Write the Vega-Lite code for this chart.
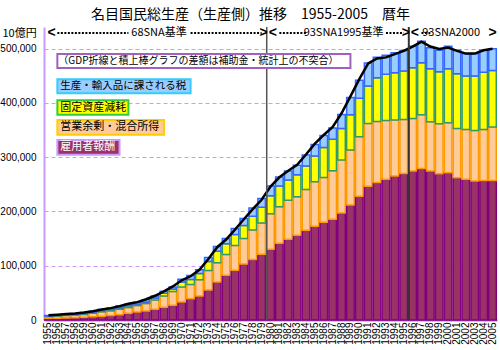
{
  "$schema": "https://vega.github.io/schema/vega-lite/v6.json",
  "width": 453,
  "height": 293,
  "autosize": {"type": "none"},
  "padding": {"left": 44, "top": 27, "right": 3, "bottom": 30},
  "background": "white",
  "title": {"text": "名目国民総生産（生産側）推移　1955-2005　暦年", "font": "Noto Sans CJK JP", "fontSize": 14, "fontWeight": "normal", "color": "#000000", "anchor": "middle", "dx": -20, "offset": 4},
  "config": {
    "view": {"stroke": null},
    "font": "Liberation Sans",
    "axisX": {"labelAngle": 270, "labelFont": "Liberation Sans", "labelFontSize": 10, "labelColor": "#000000", "labelPadding": 2, "ticks": false, "domain": true, "domainColor": "#b070e0", "domainWidth": 2, "labelOverlap": false, "grid": false},
    "axisY": {"format": ",.0f", "titleAngle": 0, "titleX": -42, "titleY": 6, "titleAlign": "left", "titleBaseline": "middle", "titleFont": "Noto Sans CJK JP", "titleFontSize": 11, "titleFontWeight": "normal", "titleColor": "#000000",
              "labelFont": "Liberation Sans", "labelFontSize": 10, "labelColor": "#000000", "labelPadding": 8, "ticks": false,
              "grid": true, "gridColor": "#cc99ff", "gridDash": [4, 3], "gridWidth": 1, "domain": true, "domainColor": "#cc99ff", "domainWidth": 2}
  },
  "data": {"values": [
    {"year":1955,"c1_comp":3000,"c2_surplus":3300,"c3_depr":1100,"c4_tax":1000,"gdp":8600},
    {"year":1956,"c1_comp":3400,"c2_surplus":3800,"c3_depr":1200,"c4_tax":1100,"gdp":9700},
    {"year":1957,"c1_comp":3900,"c2_surplus":4500,"c3_depr":1400,"c4_tax":1200,"gdp":11100},
    {"year":1958,"c1_comp":4300,"c2_surplus":4700,"c3_depr":1500,"c4_tax":1300,"gdp":11900},
    {"year":1959,"c1_comp":4900,"c2_surplus":5400,"c3_depr":1700,"c4_tax":1500,"gdp":13700},
    {"year":1960,"c1_comp":5800,"c2_surplus":6600,"c3_depr":2000,"c4_tax":1700,"gdp":16000},
    {"year":1961,"c1_comp":7000,"c2_surplus":8000,"c3_depr":2400,"c4_tax":2100,"gdp":19300},
    {"year":1962,"c1_comp":8300,"c2_surplus":8600,"c3_depr":2700,"c4_tax":2400,"gdp":21900},
    {"year":1963,"c1_comp":9700,"c2_surplus":10000,"c3_depr":3100,"c4_tax":2800,"gdp":25600},
    {"year":1964,"c1_comp":12300,"c2_surplus":10800,"c3_depr":3000,"c4_tax":3000,"gdp":29900},
    {"year":1965,"c1_comp":14700,"c2_surplus":12000,"c3_depr":2800,"c4_tax":3000,"gdp":32900},
    {"year":1966,"c1_comp":16600,"c2_surplus":13600,"c3_depr":3000,"c4_tax":4000,"gdp":38200},
    {"year":1967,"c1_comp":19700,"c2_surplus":17100,"c3_depr":3700,"c4_tax":3700,"gdp":44700},
    {"year":1968,"c1_comp":23400,"c2_surplus":20800,"c3_depr":5200,"c4_tax":3600,"gdp":52800},
    {"year":1969,"c1_comp":27100,"c2_surplus":25200,"c3_depr":4800,"c4_tax":3700,"gdp":61800},
    {"year":1970,"c1_comp":33200,"c2_surplus":27600,"c3_depr":9200,"c4_tax":5000,"gdp":73200},
    {"year":1971,"c1_comp":39300,"c2_surplus":26300,"c3_depr":9200,"c4_tax":7300,"gdp":80600},
    {"year":1972,"c1_comp":44100,"c2_surplus":30100,"c3_depr":11600,"c4_tax":6800,"gdp":92400},
    {"year":1973,"c1_comp":55200,"c2_surplus":36100,"c3_depr":16600,"c4_tax":7300,"gdp":112500},
    {"year":1974,"c1_comp":69900,"c2_surplus":35600,"c3_depr":21300,"c4_tax":8600,"gdp":134200},
    {"year":1975,"c1_comp":82700,"c2_surplus":38000,"c3_depr":19700,"c4_tax":9600,"gdp":148300},
    {"year":1976,"c1_comp":91900,"c2_surplus":45400,"c3_depr":20200,"c4_tax":11000,"gdp":166600},
    {"year":1977,"c1_comp":103000,"c2_surplus":47200,"c3_depr":23900,"c4_tax":12900,"gdp":185600},
    {"year":1978,"c1_comp":111600,"c2_surplus":54500,"c3_depr":25000,"c4_tax":15500,"gdp":204400},
    {"year":1979,"c1_comp":121300,"c2_surplus":57700,"c3_depr":28700,"c4_tax":16000,"gdp":221500},
    {"year":1980,"c1_comp":130200,"c2_surplus":65700,"c3_depr":32900,"c4_tax":18200,"gdp":246000},
    {"year":1981,"c1_comp":141300,"c2_surplus":67600,"c3_depr":37900,"c4_tax":16600,"gdp":263000},
    {"year":1982,"c1_comp":148600,"c2_surplus":71900,"c3_depr":37400,"c4_tax":16600,"gdp":275000},
    {"year":1983,"c1_comp":156000,"c2_surplus":71300,"c3_depr":40500,"c4_tax":17200,"gdp":286000},
    {"year":1984,"c1_comp":165200,"c2_surplus":75500,"c3_depr":43000,"c4_tax":20200,"gdp":305000},
    {"year":1985,"c1_comp":172600,"c2_surplus":82300,"c3_depr":47200,"c4_tax":21500,"gdp":325000},
    {"year":1986,"c1_comp":180000,"c2_surplus":82800,"c3_depr":55000,"c4_tax":22400,"gdp":341000},
    {"year":1987,"c1_comp":185500,"c2_surplus":89700,"c3_depr":58000,"c4_tax":20500,"gdp":356000},
    {"year":1988,"c1_comp":197100,"c2_surplus":97600,"c3_depr":58400,"c4_tax":25800,"gdp":381000},
    {"year":1989,"c1_comp":211800,"c2_surplus":101700,"c3_depr":64800,"c4_tax":31700,"gdp":412000},
    {"year":1990,"c1_comp":227900,"c2_surplus":109900,"c3_depr":70800,"c4_tax":33200,"gdp":444000},
    {"year":1991,"c1_comp":246500,"c2_surplus":115500,"c3_depr":69200,"c4_tax":42600,"gdp":473000},
    {"year":1992,"c1_comp":253300,"c2_surplus":112400,"c3_depr":80800,"c4_tax":37900,"gdp":482000},
    {"year":1993,"c1_comp":259200,"c2_surplus":108300,"c3_depr":85500,"c4_tax":35000,"gdp":484000},
    {"year":1994,"c1_comp":265200,"c2_surplus":103200,"c3_depr":87300,"c4_tax":36800,"gdp":490000},
    {"year":1995,"c1_comp":270200,"c2_surplus":99500,"c3_depr":89000,"c4_tax":38100,"gdp":496000},
    {"year":1996,"c1_comp":274500,"c2_surplus":97000,"c3_depr":93500,"c4_tax":39700,"gdp":504000},
    {"year":1997,"c1_comp":279400,"c2_surplus":98900,"c3_depr":95800,"c4_tax":39800,"gdp":513000},
    {"year":1998,"c1_comp":274500,"c2_surplus":90900,"c3_depr":97700,"c4_tax":38700,"gdp":504000},
    {"year":1999,"c1_comp":269700,"c2_surplus":92100,"c3_depr":95700,"c4_tax":39800,"gdp":499500},
    {"year":2000,"c1_comp":271500,"c2_surplus":92100,"c3_depr":99500,"c4_tax":41600,"gdp":502000},
    {"year":2001,"c1_comp":262300,"c2_surplus":90800,"c3_depr":100800,"c4_tax":43400,"gdp":496000},
    {"year":2002,"c1_comp":259200,"c2_surplus":92100,"c3_depr":98200,"c4_tax":41200,"gdp":491000},
    {"year":2003,"c1_comp":256000,"c2_surplus":93400,"c3_depr":100100,"c4_tax":41200,"gdp":491000},
    {"year":2004,"c1_comp":257300,"c2_surplus":94000,"c3_depr":105500,"c4_tax":40500,"gdp":497000},
    {"year":2005,"c1_comp":257300,"c2_surplus":98200,"c3_depr":104500,"c4_tax":39900,"gdp":500000}
  ]},
  "layer": [
    {
      "transform": [{"fold": ["c1_comp","c2_surplus","c3_depr","c4_tax"], "as": ["series","amount"]}],
      "mark": {"type": "bar", "strokeWidth": 1.5},
      "encoding": {
        "x": {"field": "year", "type": "ordinal", "title": null, "scale": {"paddingInner": 0.15, "paddingOuter": 0.08}},
        "y": {"field": "amount", "type": "quantitative", "stack": "zero", "title": "10億円", "scale": {"domain": [0, 540000], "nice": false},
              "axis": {"values": [0, 100000, 200000, 300000, 400000, 500000], "format": ",.0f"}},
        "fill": {"field": "series", "type": "nominal", "scale": {"domain": ["c1_comp","c2_surplus","c3_depr","c4_tax"], "range": ["#993366","#ffcc99","#ffff00","#99ccff"]}, "legend": null},
        "stroke": {"field": "series", "type": "nominal", "scale": {"domain": ["c1_comp","c2_surplus","c3_depr","c4_tax"], "range": ["#800080","#ff9900","#339966","#3366ff"]}, "legend": null},
        "order": {"field": "series", "sort": "ascending"}
      }
    },
    {
      "mark": {"type": "line", "color": "#000000", "strokeWidth": 2.5},
      "encoding": {
        "x": {"field": "year", "type": "ordinal", "title": null},
        "y": {"field": "gdp", "type": "quantitative", "title": "10億円"}
      }
    },
    {
      "data": {"values": [{}]},
      "mark": {"type": "rule", "color": "#555555", "strokeWidth": 1.5},
      "encoding": {"x": {"datum": 1980, "type": "ordinal", "bandPosition": 0, "title": null}}
    },
    {
      "data": {"values": [{}]},
      "mark": {"type": "rule", "color": "#333333", "strokeWidth": 2},
      "encoding": {"x": {"datum": 1996, "type": "ordinal", "bandPosition": 0, "title": null}}
    },
    {"data": {"values": [{}]}, "mark": {"type": "rule", "color": "#000000", "strokeWidth": 2, "strokeDash": [2, 1.5]},
     "encoding": {"x": {"datum": 1956, "type": "ordinal", "title": null}, "x2": {"datum": 1964}, "y": {"datum": 529000, "type": "quantitative", "title": "10億円"}}},
    {"data": {"values": [{}]}, "mark": {"type": "rule", "color": "#000000", "strokeWidth": 2, "strokeDash": [2, 1.5]},
     "encoding": {"x": {"datum": 1971, "type": "ordinal", "title": null}, "x2": {"datum": 1979}, "y": {"datum": 529000, "type": "quantitative", "title": "10億円"}}},
    {"data": {"values": [{}]}, "mark": {"type": "rule", "color": "#000000", "strokeWidth": 2, "strokeDash": [2, 1.5]},
     "encoding": {"x": {"datum": 1981, "type": "ordinal", "title": null}, "x2": {"datum": 1984}, "y": {"datum": 529000, "type": "quantitative", "title": "10億円"}}},
    {"data": {"values": [{}]}, "mark": {"type": "rule", "color": "#000000", "strokeWidth": 2, "strokeDash": [2, 1.5]},
     "encoding": {"x": {"datum": 1993, "type": "ordinal", "title": null}, "x2": {"datum": 1995}, "y": {"datum": 529000, "type": "quantitative", "title": "10億円"}}},
    {"data": {"values": [{}]}, "mark": {"type": "rule", "color": "#000000", "strokeWidth": 2, "strokeDash": [2, 1.5]},
     "encoding": {"x": {"datum": 1997, "type": "ordinal", "title": null}, "x2": {"datum": 1998}, "y": {"datum": 529000, "type": "quantitative", "title": "10億円"}}},
    {"data": {"values": [{}]}, "mark": {"type": "text", "text": "<", "font": "Liberation Sans", "fontSize": 14, "fontWeight": "bold", "align": "left", "baseline": "middle", "dx": -1},
     "encoding": {"x": {"datum": 1955, "type": "ordinal", "title": null}, "y": {"datum": 529000, "type": "quantitative", "title": "10億円"}}},
    {"data": {"values": [{}]}, "mark": {"type": "text", "text": ">", "font": "Liberation Sans", "fontSize": 14, "fontWeight": "bold", "align": "right", "baseline": "middle", "dx": 1},
     "encoding": {"x": {"datum": 1980, "type": "ordinal", "bandPosition": 0, "title": null}, "y": {"datum": 529000, "type": "quantitative", "title": "10億円"}}},
    {"data": {"values": [{}]}, "mark": {"type": "text", "text": "<", "font": "Liberation Sans", "fontSize": 14, "fontWeight": "bold", "align": "left", "baseline": "middle", "dx": 2},
     "encoding": {"x": {"datum": 1980, "type": "ordinal", "bandPosition": 0, "title": null}, "y": {"datum": 529000, "type": "quantitative", "title": "10億円"}}},
    {"data": {"values": [{}]}, "mark": {"type": "text", "text": ">", "font": "Liberation Sans", "fontSize": 14, "fontWeight": "bold", "align": "right", "baseline": "middle", "dx": 1},
     "encoding": {"x": {"datum": 1996, "type": "ordinal", "bandPosition": 0, "title": null}, "y": {"datum": 529000, "type": "quantitative", "title": "10億円"}}},
    {"data": {"values": [{}]}, "mark": {"type": "text", "text": "<", "font": "Liberation Sans", "fontSize": 14, "fontWeight": "bold", "align": "left", "baseline": "middle", "dx": 2},
     "encoding": {"x": {"datum": 1996, "type": "ordinal", "bandPosition": 0, "title": null}, "y": {"datum": 529000, "type": "quantitative", "title": "10億円"}}},
    {"data": {"values": [{}]}, "mark": {"type": "text", "text": ">", "font": "Liberation Sans", "fontSize": 14, "fontWeight": "bold", "align": "center", "baseline": "middle"},
     "encoding": {"x": {"datum": 2005, "type": "ordinal", "title": null}, "y": {"datum": 529000, "type": "quantitative", "title": "10億円"}}},
    {"transform": [{"filter": "datum.year == 1967"}], "mark": {"type": "text", "text": "68SNA基準", "font": "Noto Sans CJK JP", "fontSize": 11, "align": "center", "baseline": "middle", "dx": 4, "color": "#000000"},
     "encoding": {"x": {"field": "year", "type": "ordinal", "title": null}, "y": {"datum": 529000, "type": "quantitative", "title": "10億円"}}},
    {"transform": [{"filter": "datum.year == 1988"}], "mark": {"type": "text", "text": "93SNA1995基準", "font": "Noto Sans CJK JP", "fontSize": 11, "align": "center", "baseline": "middle", "dx": 2, "color": "#000000"},
     "encoding": {"x": {"field": "year", "type": "ordinal", "title": null}, "y": {"datum": 529000, "type": "quantitative", "title": "10億円"}}},
    {"transform": [{"filter": "datum.year == 2000"}], "mark": {"type": "text", "text": "93SNA2000", "font": "Noto Sans CJK JP", "fontSize": 11, "align": "center", "baseline": "middle", "dx": 3, "color": "#000000"},
     "encoding": {"x": {"field": "year", "type": "ordinal", "title": null}, "y": {"datum": 529000, "type": "quantitative", "title": "10億円"}}},
    {"data": {"values": [{}]}, "mark": {"type": "rect", "fill": "#ffffff", "stroke": "#a060c0", "strokeWidth": 2},
     "encoding": {"x": {"datum": 1956, "type": "ordinal", "title": null}, "x2": {"datum": 1989}, "y": {"datum": 490200, "type": "quantitative", "title": "10億円"}, "y2": {"datum": 464400}}},
    {"data": {"values": [{}]}, "mark": {"type": "text", "text": "（GDP折線と積上棒グラフの差額は補助金・統計上の不突合）", "font": "Noto Sans CJK JP", "fontSize": 10, "align": "left", "baseline": "middle", "dx": 1, "color": "#000000"},
     "encoding": {"x": {"datum": 1956, "type": "ordinal", "title": null}, "y": {"datum": 477300, "type": "quantitative", "title": "10億円"}}},
    {"data": {"values": [{}]}, "mark": {"type": "rect", "fill": "#99ccff", "stroke": "#33ccff", "strokeWidth": 2},
     "encoding": {"x": {"datum": 1956, "type": "ordinal", "title": null}, "x2": {"datum": 1971}, "y": {"datum": 443600, "type": "quantitative", "title": "10億円"}, "y2": {"datum": 417800}}},
    {"data": {"values": [{}]}, "mark": {"type": "text", "text": "生産・輸入品に課される税", "font": "Noto Sans CJK JP", "fontSize": 10.5, "align": "left", "baseline": "middle", "dx": 3, "color": "#000000"},
     "encoding": {"x": {"datum": 1956, "type": "ordinal", "title": null}, "y": {"datum": 430700, "type": "quantitative", "title": "10億円"}}},
    {"data": {"values": [{}]}, "mark": {"type": "rect", "fill": "#ffff00", "stroke": "#33cc33", "strokeWidth": 2},
     "encoding": {"x": {"datum": 1956, "type": "ordinal", "title": null}, "x2": {"datum": 1964}, "y": {"datum": 404900, "type": "quantitative", "title": "10億円"}, "y2": {"datum": 378400}}},
    {"data": {"values": [{}]}, "mark": {"type": "text", "text": "固定資産減耗", "font": "Noto Sans CJK JP", "fontSize": 11, "align": "left", "baseline": "middle", "dx": 3, "color": "#000000"},
     "encoding": {"x": {"datum": 1956, "type": "ordinal", "title": null}, "y": {"datum": 391600, "type": "quantitative", "title": "10億円"}}},
    {"data": {"values": [{}]}, "mark": {"type": "rect", "fill": "#ffcc99", "stroke": "#ffcc00", "strokeWidth": 2},
     "encoding": {"x": {"datum": 1956, "type": "ordinal", "title": null}, "x2": {"datum": 1968}, "y": {"datum": 368600, "type": "quantitative", "title": "10億円"}, "y2": {"datum": 341500}}},
    {"data": {"values": [{}]}, "mark": {"type": "text", "text": "営業余剰・混合所得", "font": "Noto Sans CJK JP", "fontSize": 11, "align": "left", "baseline": "middle", "dx": 3, "color": "#000000"},
     "encoding": {"x": {"datum": 1956, "type": "ordinal", "title": null}, "y": {"datum": 355100, "type": "quantitative", "title": "10億円"}}},
    {"data": {"values": [{}]}, "mark": {"type": "rect", "fill": "#993366", "stroke": "#cc99ff", "strokeWidth": 2},
     "encoding": {"x": {"datum": 1956, "type": "ordinal", "title": null}, "x2": {"datum": 1963}, "y": {"datum": 331700, "type": "quantitative", "title": "10億円"}, "y2": {"datum": 304700}}},
    {"data": {"values": [{}]}, "mark": {"type": "text", "text": "雇用者報酬", "font": "Noto Sans CJK JP", "fontSize": 11, "align": "left", "baseline": "middle", "dx": 3, "color": "#ffffff"},
     "encoding": {"x": {"datum": 1956, "type": "ordinal", "title": null}, "y": {"datum": 318300, "type": "quantitative", "title": "10億円"}}}
  ]
}
